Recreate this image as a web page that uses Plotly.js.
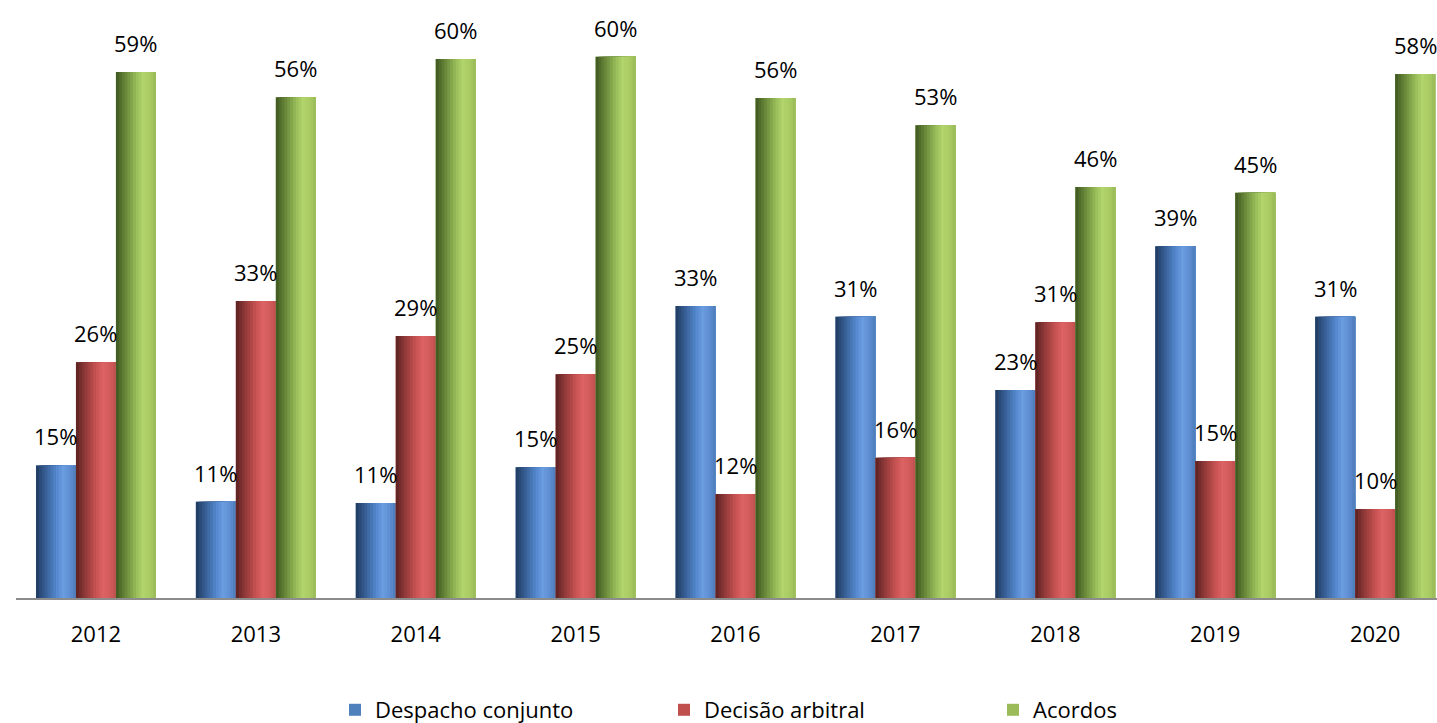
<!DOCTYPE html>
<html>
<head>
<meta charset="utf-8">
<script src="https://cdn.plot.ly/plotly-3.0.1.min.js"></script>
<style>
  html, body { margin: 0; padding: 0; background: #ffffff; overflow: hidden; }
  #chart { width: 1437px; height: 723px; }
</style>
</head>
<body>
<div id="chart"></div>
<script>
// ---- Data ----
const categories = ['2012', '2013', '2014', '2015', '2016', '2017', '2018', '2019', '2020'];
const seriesNames = ['Despacho conjunto', 'Decisão arbitral', 'Acordos'];
const despachoConjunto = [14.8, 10.75, 10.6, 14.6, 32.6, 31.4, 23.2, 39.25, 31.4];
const decisaoArbitral = [26.3, 33.15, 29.24, 24.97, 11.6, 15.66, 30.77, 15.29, 9.93];
const acordos = [58.7, 55.9, 60.16, 60.4, 55.8, 52.76, 45.87, 45.23, 58.48];

// ---- Style ----
const seriesValues = [despachoConjunto, decisaoArbitral, acordos];
const flatColors = ['#4f81bd', '#c0504d', '#9bbb59'];
const gradients = [
  [[0, '#1f3a5e'], [0.2, '#33588c'], [0.5, '#5286cc'], [0.68, '#6a9ce0'], [0.85, '#5f8fd2'], [1, '#4d7bb9']],
  [[0, '#5a2020'], [0.2, '#8a3636'], [0.5, '#c75252'], [0.68, '#dc6363'], [0.85, '#d25b5b'], [1, '#c04f4f']],
  [[0, '#3e5620'], [0.2, '#617f34'], [0.5, '#96bb58'], [0.68, '#b2d46c'], [0.85, '#aacb64'], [1, '#97b957']]
];
const FONT = 'Open Sans, Noto Sans, Liberation Sans, sans-serif';
const BAR_W = 0.25;      // bar width in category units
const STRIPS = 14;       // shading strips per bar

function hexToRgb(h) {
  const n = parseInt(h.slice(1), 16);
  return [(n >> 16) & 255, (n >> 8) & 255, n & 255];
}
function gradColor(stops, t) {
  for (let i = 1; i < stops.length; i++) {
    if (t <= stops[i][0]) {
      const [t0, c0] = stops[i - 1];
      const [t1, c1] = stops[i];
      const f = (t - t0) / (t1 - t0);
      const a = hexToRgb(c0), b = hexToRgb(c1);
      const c = a.map((v, j) => Math.round(v + (b[j] - v) * f));
      return 'rgb(' + c.join(',') + ')';
    }
  }
  return stops[stops.length - 1][1];
}

const traces = [];
const annotations = [];
seriesValues.forEach((vals, k) => {
  const center = (k - 1) * BAR_W;
  const left = center - BAR_W / 2;
  // base trace (carries the legend entry)
  traces.push({
    type: 'bar', x: categories, y: vals, name: seriesNames[k],
    legendgroup: 's' + k, showlegend: true,
    offset: left, width: BAR_W,
    marker: { color: flatColors[k], line: { width: 0 } },
    hoverinfo: 'skip'
  });
  // shading strips layered left to right
  for (let i = 0; i < STRIPS; i++) {
    const step = BAR_W / STRIPS;
    traces.push({
      type: 'bar', x: categories, y: vals, name: seriesNames[k],
      legendgroup: 's' + k, showlegend: false,
      offset: left + i * step, width: BAR_W - i * step,
      marker: { color: gradColor(gradients[k], (i + 0.5) / STRIPS), line: { width: 0 } },
      hoverinfo: 'skip'
    });
  }
  vals.forEach((v, i) => {
    annotations.push({
      x: i + center, y: v, xref: 'x', yref: 'y',
      text: Math.round(v) + '%', showarrow: false,
      yanchor: 'bottom', xanchor: 'center', yshift: 12,
      font: { family: FONT, size: 22, color: '#000000' }
    });
  });
});

const layout = {
  width: 1437, height: 723,
  margin: { l: 16, r: 0, t: 0, b: 125, autoexpand: false },
  paper_bgcolor: '#ffffff', plot_bgcolor: '#ffffff',
  barmode: 'overlay',
  showlegend: true,
  font: { family: FONT, size: 22, color: '#000000' },
  xaxis: {
    type: 'category',
    range: [-0.5, 8.387],
    automargin: false,
    showgrid: false, zeroline: false,
    showline: true, linecolor: '#8c8c8c', linewidth: 2,
    ticks: '', ticklabelstandoff: 16,
    tickfont: { family: FONT, size: 22, color: '#000000' },
    fixedrange: true
  },
  yaxis: {
    range: [0, 66.74],
    automargin: false,
    showgrid: false, zeroline: false, showline: false,
    showticklabels: false, ticks: '', fixedrange: true
  },
  legend: {
    orientation: 'h', x: 0.2245, xanchor: 'left',
    yref: 'container', y: 0.018, yanchor: 'middle',
    entrywidth: 284, entrywidthmode: 'pixels',
    font: { family: FONT, size: 22, color: '#000000' },
    bgcolor: 'rgba(0,0,0,0)'
  },
  annotations: annotations
};

Plotly.newPlot('chart', traces, layout, { displayModeBar: false, staticPlot: true });
</script>
</body>
</html>
